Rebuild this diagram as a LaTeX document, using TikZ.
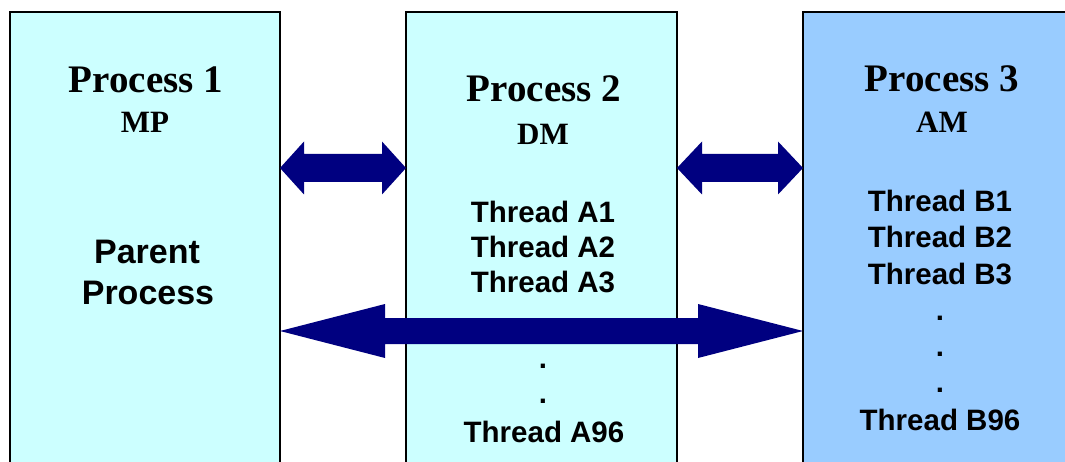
\documentclass[tikz,border=0pt]{standalone}
\usepackage{fontspec}
\setmainfont{Liberation Serif}
\newfontfamily\thrfont{Liberation Sans}
\usetikzlibrary{calc}
\definecolor{cyanbox}{HTML}{CCFFFF}
\definecolor{bluebox}{HTML}{99CCFF}
\definecolor{navyarrow}{HTML}{000080}
\begin{document}
\begin{tikzpicture}[x=1pt,y=-1pt,
  procbox/.style={draw=black, line width=1.5pt, anchor=north west, inner sep=0pt, outer sep=0pt, minimum height=480pt},
  ptitle/.style={anchor=base, inner sep=0pt, font=\fontsize{39}{41}\selectfont\bfseries},
  psub/.style={anchor=base, inner sep=0pt, font=\fontsize{31}{33}\selectfont\bfseries},
  thr/.style={anchor=base, inner sep=0pt, font=\thrfont\bfseries\fontsize{29.5}{31}\selectfont},
  parent/.style={anchor=base, inner sep=0pt, font=\thrfont\bfseries\fontsize{34}{36}\selectfont},
  blockarrow/.style={fill=navyarrow, draw=none}]
\useasboundingbox (0,0) rectangle (1065,462);
\clip (0,0) rectangle (1065,462);
\fill[white] (0,0) rectangle (1065,462);
% boxes
\node[procbox, fill=cyanbox, minimum width=270pt] (p1) at (10,12) {};
\node[procbox, fill=cyanbox, minimum width=271pt] (p2) at (406,12) {};
\node[procbox, fill=bluebox, minimum width=300pt] (p3) at (803,12) {};
% box 1 text
\node[ptitle] (t1) at (146,93) {Process 1};
\node[psub] (s1) at (145,133) {MP};
\node[parent] (pa1) at (147,264) {Parent};
\node[parent] (pa2) at (148,305) {Process};
% box 2 text
\node[ptitle] (t2) at (544,102) {Process 2};
\node[psub] (s2) at (543,145) {DM};
\node[thr] (a1) at (543,223) {Thread A1};
\node[thr] (a2) at (543,258) {Thread A2};
\node[thr] (a3) at (543,293) {Thread A3};
\node[thr] (ad1) at (543,368) {.};
\node[thr] (ad2) at (543,403) {.};
\node[thr] (a96) at (544,442) {Thread A96};
% box 3 text
\node[ptitle] (t3) at (942,92) {Process 3};
\node[psub] (s3) at (942,133) {AM};
\node[thr] (b1) at (940,212) {Thread B1};
\node[thr] (b2) at (940,248) {Thread B2};
\node[thr] (b3) at (940,284) {Thread B3};
\node[thr] (bd1) at (940,320) {.};
\node[thr] (bd2) at (940,356) {.};
\node[thr] (bd3) at (940,392) {.};
\node[thr] (b96) at (940,430) {Thread B96};
% arrow anchors
\coordinate (a1l) at ($(p1.north east)+(0,156)$);
\coordinate (a1r) at ($(p2.north west)+(0,156)$);
\coordinate (a2l) at ($(p2.north east)+(0,156)$);
\coordinate (a2r) at ($(p3.north west)+(0,156)$);
\coordinate (a3l) at ($(p1.north east)+(0,319)$);
\coordinate (a3r) at ($(p3.north west)+(0,319)$);
% small arrows
\fill[blockarrow] (a1l) -- ++(24,-26.5) -- ++(0,12.5) -- ($(a1r)+(-24,-14)$) -- ++(0,-12.5) -- (a1r)
  -- ++(-24,26.5) -- ++(0,-12.5) -- ($(a1l)+(24,14)$) -- ++(0,12.5) -- cycle;
\fill[blockarrow] (a2l) -- ++(25,-26.5) -- ++(0,12.5) -- ($(a2r)+(-25,-14)$) -- ++(0,-12.5) -- (a2r)
  -- ++(-25,26.5) -- ++(0,-12.5) -- ($(a2l)+(25,14)$) -- ++(0,12.5) -- cycle;
% big arrow
\fill[blockarrow] (a3l) -- ++(105,-27) -- ++(0,14) -- ($(a3r)+(-105,-13)$) -- ++(0,-14) -- (a3r)
  -- ++(-105,27) -- ++(0,-14) -- ($(a3l)+(105,13)$) -- ++(0,14) -- cycle;
\end{tikzpicture}
\end{document}
